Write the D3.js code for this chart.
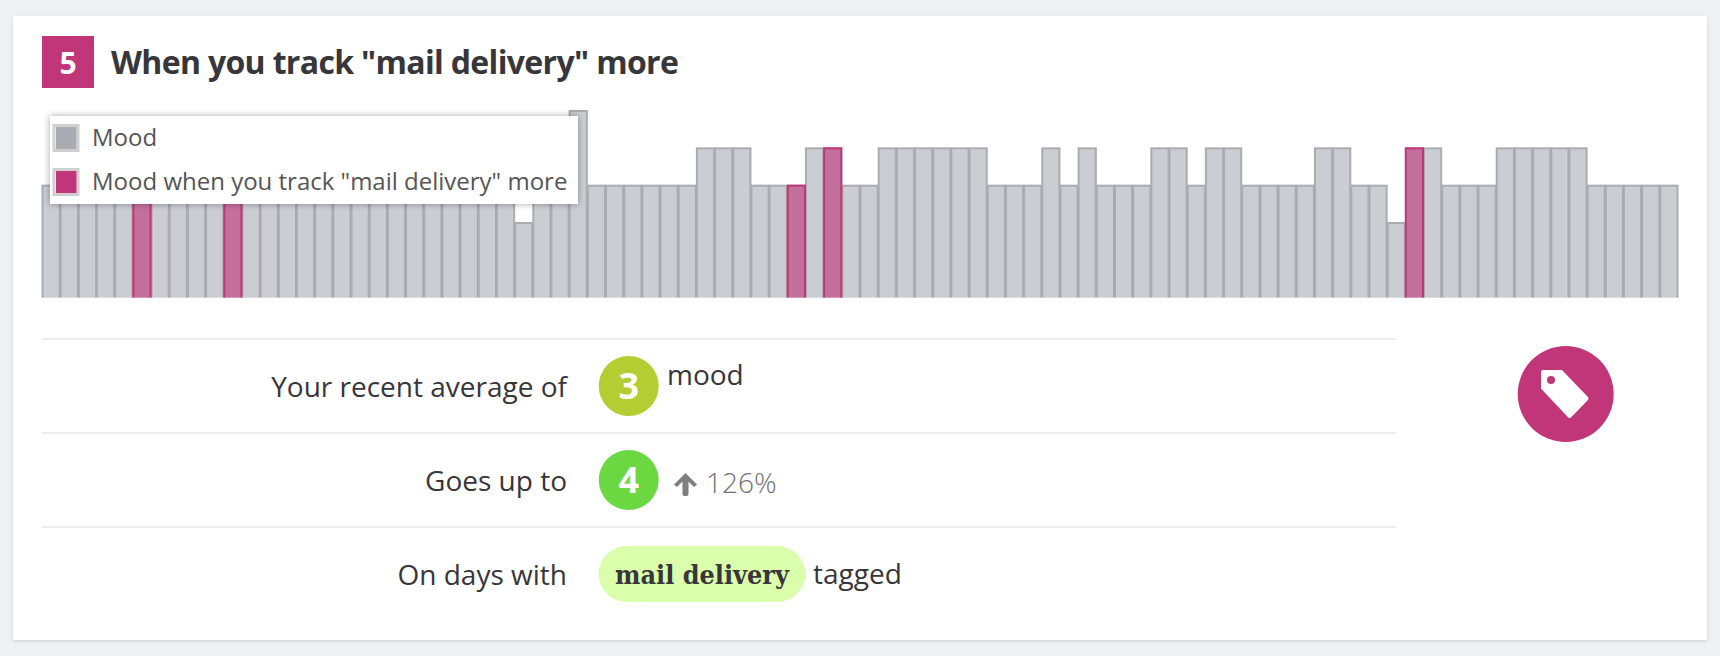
<!DOCTYPE html>
<html>
<head>
<meta charset="utf-8">
<script src="https://cdn.jsdelivr.net/npm/d3@7"></script>
<style>
  html, body { margin: 0; padding: 0; background: #eef0f4; overflow: hidden; }
  svg { display: block; }
  text { font-family: "Open Sans", sans-serif; }
</style>
</head>
<body>
<div id="chart"></div>
<script>
// mood per day (days behind the legend assumed 3)
const moodValues = [
  3, 3, 3, 3, 3, 3, 3, 3, 3, 3,
  3, 3, 3, 3, 3, 3, 3, 3, 3, 3,
  3, 3, 3, 3, 3, 3, 2, 3, 3, 5,
  3, 3, 3, 3, 3, 3, 4, 4, 4, 3,
  3, 3, 4, 4, 3, 3, 4, 4, 4, 4,
  4, 4, 3, 3, 3, 4, 3, 4, 3, 3,
  3, 4, 4, 3, 4, 4, 3, 3, 3, 3,
  4, 4, 3, 3, 2, 4, 4, 3, 3, 3,
  4, 4, 4, 4, 4, 3, 3, 3, 3, 3
];
const highlightedDays = [5, 10, 41, 43, 75];
const legendLabels = ["Mood", 'Mood when you track "mail delivery" more'];
const rowLabels = ["Your recent average of", "Goes up to", "On days with"];
const rowScores = [3, 4];
const scoreColors = ["#b3cd33", "#6bd842"];

const pink = "#c13678";

const svg = d3.select("#chart")
  .append("svg")
  .attr("width", 1720)
  .attr("height", 656);

const defs = svg.append("defs");
const cardShadow = defs.append("filter").attr("id", "cardShadow")
  .attr("x", "-2%").attr("y", "-2%").attr("width", "104%").attr("height", "104%");
cardShadow.append("feDropShadow").attr("dx", 0).attr("dy", 1).attr("stdDeviation", 1.5)
  .attr("flood-color", "#000").attr("flood-opacity", 0.14);
const legendShadow = defs.append("filter").attr("id", "legendShadow")
  .attr("x", "-5%").attr("y", "-20%").attr("width", "110%").attr("height", "140%");
legendShadow.append("feDropShadow").attr("dx", 0).attr("dy", 0).attr("stdDeviation", 3.5)
  .attr("flood-color", "#000").attr("flood-opacity", 0.35);

svg.append("rect")
  .attr("x", 13).attr("y", 16).attr("width", 1694).attr("height", 624)
  .attr("fill", "#fff")
  .attr("filter", "url(#cardShadow)");

// Title
svg.append("rect")
  .attr("x", 42).attr("y", 36).attr("width", 52).attr("height", 52)
  .attr("fill", pink);
svg.append("text")
  .attr("x", 68).attr("y", 74)
  .attr("text-anchor", "middle")
  .attr("font-size", 30).attr("font-weight", 700).attr("fill", "#fff")
  .text("5");
svg.append("text")
  .attr("x", 111).attr("y", 74)
  .attr("font-size", 32).attr("font-weight", 700).attr("fill", "#37363a")
  .attr("letter-spacing", "-0.66")
  .text('When you track "mail delivery" more');

// Bars
const xScale = d3.scaleBand()
  .domain(d3.range(moodValues.length))
  .range([42, 1678]);
const yScale = d3.scaleLinear()
  .domain([0, 5])
  .range([297.7, 111]);

svg.selectAll(".bar")
  .data(moodValues)
  .enter()
  .append("rect")
  .attr("class", "bar")
  .attr("x", (d, i) => xScale(i) + 0.5)
  .attr("y", d => yScale(d))
  .attr("width", xScale.bandwidth() - 1)
  .attr("height", d => yScale(0) - yScale(d) + 3)
  .attr("fill", "#cbcdd2")
  .attr("stroke", "#a9acb1")
  .attr("stroke-width", 2);

svg.selectAll(".bar-tracked")
  .data(highlightedDays)
  .enter()
  .append("rect")
  .attr("class", "bar-tracked")
  .attr("x", d => xScale(d) + 0.5)
  .attr("y", d => yScale(moodValues[d]))
  .attr("width", xScale.bandwidth() - 1)
  .attr("height", d => yScale(0) - yScale(moodValues[d]) + 3)
  .attr("fill", "#c4709d")
  .attr("stroke", pink)
  .attr("stroke-width", 2);

// bars are cut flat at the baseline, no bottom stroke
svg.append("rect")
  .attr("x", 30).attr("y", 297.7).attr("width", 1660).attr("height", 8)
  .attr("fill", "#fff");

// Legend
svg.append("rect")
  .attr("x", 50).attr("y", 116).attr("width", 528).attr("height", 88)
  .attr("fill", "#fff")
  .attr("filter", "url(#legendShadow)");

const legendRow = svg.selectAll(".legend-row")
  .data(legendLabels)
  .enter()
  .append("g")
  .attr("class", "legend-row")
  .attr("transform", (d, i) => `translate(0,${i * 44})`);
legendRow.append("rect")
  .attr("x", 54).attr("y", 125.5).attr("width", 24).attr("height", 25)
  .attr("fill", "#fff")
  .attr("stroke", "#cfcfcf")
  .attr("stroke-width", 3);
legendRow.append("rect")
  .attr("x", 56).attr("y", 127).attr("width", 20.5).attr("height", 22)
  .attr("fill", (d, i) => i === 0 ? "#a9acb1" : pink);
legendRow.append("text")
  .attr("x", 92).attr("y", 146)
  .attr("font-size", 24).attr("fill", "#555")
  .text(d => d);

// Rows
const rowY = [339, 433, 527];
svg.selectAll(".row-line")
  .data(rowY)
  .enter()
  .append("line")
  .attr("class", "row-line")
  .attr("x1", 42).attr("x2", 1396)
  .attr("y1", d => d).attr("y2", d => d)
  .attr("stroke", "#eceef1")
  .attr("stroke-width", 2);

const labelBase = [397, 491, 585];
svg.selectAll(".row-label")
  .data(rowLabels)
  .enter()
  .append("text")
  .attr("class", "row-label")
  .attr("x", 567)
  .attr("y", (d, i) => labelBase[i])
  .attr("text-anchor", "end")
  .attr("font-size", 28)
  .attr("fill", "#37363a")
  .text(d => d);

const scoreCy = [386, 480];
svg.selectAll(".score")
  .data(rowScores)
  .enter()
  .append("circle")
  .attr("class", "score")
  .attr("cx", 628.7)
  .attr("cy", (d, i) => scoreCy[i])
  .attr("r", 30)
  .attr("fill", (d, i) => scoreColors[i]);
svg.selectAll(".score-label")
  .data(rowScores)
  .enter()
  .append("text")
  .attr("class", "score-label")
  .attr("x", 628.7)
  .attr("y", (d, i) => scoreCy[i] + 13)
  .attr("text-anchor", "middle")
  .attr("font-size", 36).attr("font-weight", 700).attr("fill", "#fff")
  .text(d => d);

svg.append("text")
  .attr("x", 667).attr("y", 385)
  .attr("font-size", 28).attr("fill", "#37363a")
  .text("mood");

// up arrow + percent
svg.append("path")
  .attr("transform", "translate(685.5,473)")
  .attr("d", "M0,0 L11.5,11.5 L8.5,14 L3,8.5 L3,21 Q3,23 0,23 Q-3,23 -3,21 L-3,8.5 L-8.5,14 L-11.5,11.5 Z")
  .attr("fill", "#7d7d82");
svg.append("text")
  .attr("x", 706).attr("y", 493)
  .attr("font-size", 28).attr("font-weight", 300).attr("fill", "#6f6f74")
  .text("126%");

// Tag pill
svg.append("rect")
  .attr("x", 598.5).attr("y", 546).attr("width", 207).attr("height", 56)
  .attr("rx", 28).attr("ry", 28)
  .attr("fill", "#dbfeac");
svg.append("text")
  .attr("x", 615).attr("y", 584)
  .attr("font-size", 26).attr("font-weight", 700).attr("fill", "#37363a")
  .style("font-family", '"DejaVu Serif Condensed", "DejaVu Serif", serif')
  .attr("textLength", 174).attr("lengthAdjust", "spacingAndGlyphs")
  .text("mail delivery");
svg.append("text")
  .attr("x", 813).attr("y", 584)
  .attr("font-size", 28).attr("fill", "#37363a")
  .text("tagged");

// Tag icon
svg.append("circle")
  .attr("cx", 1565.7).attr("cy", 394).attr("r", 48)
  .attr("fill", pink);
const icon = svg.append("g").attr("transform", "translate(1541,370)");
icon.append("path")
  .attr("d", "M2,2 L20,2 L45.5,28.5 L28.5,46 L2,18 Z")
  .attr("fill", "#fff")
  .attr("stroke", "#fff")
  .attr("stroke-width", 4)
  .attr("stroke-linejoin", "round");
icon.append("circle")
  .attr("cx", 10).attr("cy", 10).attr("r", 4)
  .attr("fill", pink);
</script>
</body>
</html>
